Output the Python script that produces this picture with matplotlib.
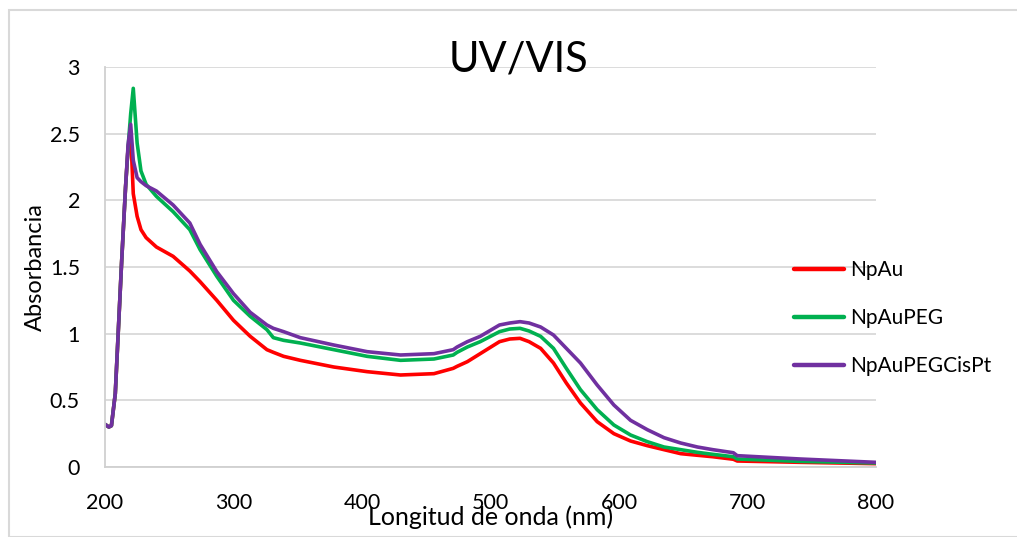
import matplotlib.pyplot as plt
from matplotlib.patches import Rectangle

plt.rcParams['font.family'] = ['Lato', 'DejaVu Sans']

# wavelength (nm), shared by all three spectra
wl = [200, 203, 205, 208, 210, 213, 216, 218, 220, 222, 225, 228, 232, 240, 253, 266, 274,
      287, 300, 313, 326, 331, 339, 352, 378, 404, 430, 456, 471, 474, 482, 492, 507, 515,
      523, 530, 539, 549, 559, 570, 583, 596, 609, 622, 635, 648, 661, 673, 689, 692, 741, 800]

np_au = [0.32, 0.30, 0.31, 0.55, 0.95, 1.55, 2.10, 2.40, 2.50, 2.05, 1.88, 1.78, 1.72, 1.65,
         1.58, 1.47, 1.39, 1.25, 1.10, 0.98, 0.88, 0.86, 0.83, 0.80, 0.75, 0.715, 0.69, 0.70,
         0.74, 0.755, 0.79, 0.85, 0.94, 0.96, 0.965, 0.94, 0.89, 0.78, 0.63, 0.48, 0.34, 0.25,
         0.195, 0.16, 0.13, 0.10, 0.088, 0.077, 0.058, 0.045, 0.035, 0.025]

np_au_peg = [0.32, 0.30, 0.31, 0.55, 0.95, 1.55, 2.10, 2.40, 2.65, 2.84, 2.43, 2.22, 2.12, 2.03,
             1.915, 1.78, 1.63, 1.43, 1.25, 1.13, 1.03, 0.97, 0.95, 0.93, 0.88, 0.83, 0.80, 0.81,
             0.84, 0.86, 0.90, 0.94, 1.015, 1.035, 1.04, 1.02, 0.98, 0.89, 0.74, 0.58, 0.43, 0.315,
             0.24, 0.19, 0.15, 0.13, 0.11, 0.095, 0.077, 0.06, 0.042, 0.03]

np_au_peg_cispt = [0.32, 0.30, 0.31, 0.55, 0.95, 1.55, 2.10, 2.42, 2.57, 2.30, 2.17, 2.14, 2.11, 2.07,
                   1.965, 1.83, 1.67, 1.465, 1.30, 1.16, 1.065, 1.04, 1.015, 0.97, 0.915, 0.865, 0.84,
                   0.85, 0.88, 0.90, 0.94, 0.98, 1.065, 1.08, 1.09, 1.08, 1.05, 0.99, 0.89, 0.78, 0.615,
                   0.465, 0.35, 0.28, 0.22, 0.18, 0.15, 0.13, 0.107, 0.085, 0.06, 0.035]

labels = ['NpAu', 'NpAuPEG', 'NpAuPEGCisPt']
colors = ['#FF0000', '#00B050', '#7030A0']

fig = plt.figure(figsize=(10.17, 5.37), dpi=100)
ax = fig.add_axes([105/1017, 1-467/537, (876-105)/1017, (467-67)/537])

for y, lab, c in zip([np_au, np_au_peg, np_au_peg_cispt], labels, colors):
    ax.plot(wl, y, color=c, lw=2.6, label=lab, solid_capstyle='round', solid_joinstyle='round')

ax.set_xlim(200, 800)
ax.set_ylim(0, 3)
ax.set_xticks([200, 300, 400, 500, 600, 700, 800])
ax.set_yticks([0, 0.5, 1, 1.5, 2, 2.5, 3])
ax.set_yticklabels(['0', '0.5', '1', '1.5', '2', '2.5', '3'])
ax.grid(axis='y', color='#d9d9d9', lw=1.3)
ax.set_axisbelow(True)
for s in ['top', 'right']:
    ax.spines[s].set_visible(False)
for s in ['left', 'bottom']:
    ax.spines[s].set_color('#d0d0d0')
    ax.spines[s].set_linewidth(1.3)
ax.tick_params(length=0, labelsize=15.5)
ax.tick_params(axis='x', pad=19)
ax.tick_params(axis='y', pad=18)

ax.set_xlabel('Longitud de onda (nm)', fontsize=18, labelpad=-6)
ax.set_ylabel('Absorbancia', fontsize=17, labelpad=3)
fig.text(518/1017, 1-60/537, 'UV/VIS', fontsize=30, ha='center', va='center')

ax.legend(loc='center left', bbox_to_anchor=(775/1017, 1-318/537), bbox_transform=fig.transFigure,
          frameon=False, fontsize=15, handlelength=2.4, labelspacing=1.35, handletextpad=0.3)
for line in ax.get_legend().get_lines():
    line.set_linewidth(3.2)

fig.patches.append(Rectangle((9/1017, 0), 1.0, 1-10/537, transform=fig.transFigure,
                             fill=False, edgecolor='#d9d9d9', lw=1.5))

plt.savefig('out.png')
